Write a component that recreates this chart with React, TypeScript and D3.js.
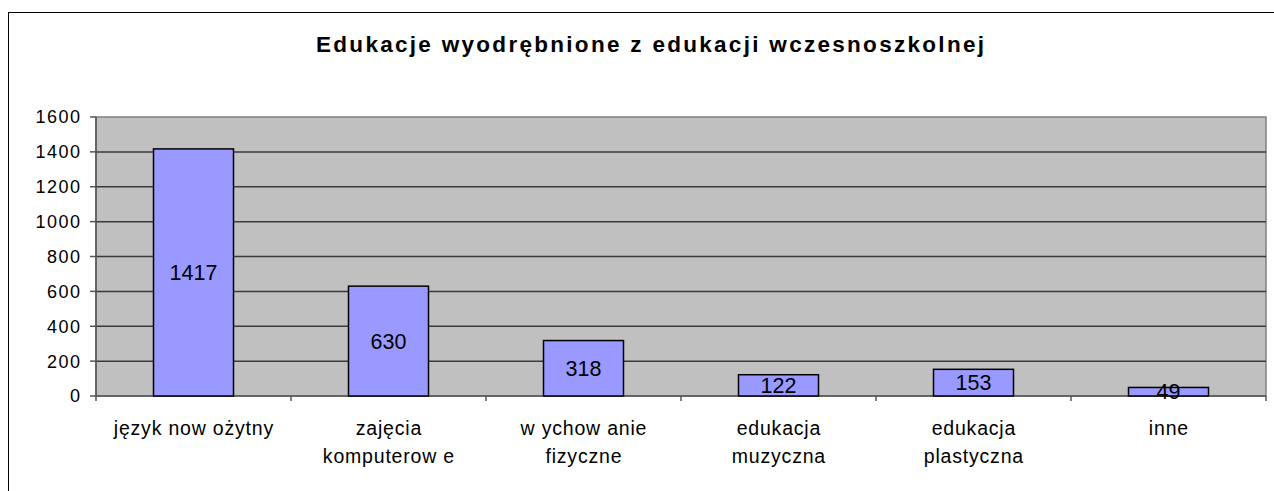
import React from "react";
import * as d3 from "d3";

const title = "Edukacje wyodrębnione z edukacji wczesnoszkolnej";
const categories: string[][] = [
  ["język now ożytny"],
  ["zajęcia", "komputerow e"],
  ["w ychow anie", "fizyczne"],
  ["edukacja", "muzyczna"],
  ["edukacja", "plastyczna"],
  ["inne"],
];
const values = [1417, 630, 318, 122, 153, 49];
const yTicks = [0, 200, 400, 600, 800, 1000, 1200, 1400, 1600];

export default function App() {
  const W = 1274, H = 491;
  const left = 96, right = 1266, top = 117, bottom = 396;
  const idx = values.map((_, i) => i);
  const x = d3.scaleBand<number>().domain(idx).range([left, right]).paddingInner(0).paddingOuter(0);
  const y = d3.scaleLinear().domain([0, 1600]).range([bottom, top]);
  const bw = 80;
  const font = "'Liberation Sans', Arial, sans-serif";
  return (
    <svg width={W} height={H} style={{ position: "absolute", left: 0, top: 0 }} fontFamily={font}>
      <rect x={0} y={0} width={W} height={H} fill="#fff" />
      <rect x={8.5} y={12.5} width={W + 10} height={H + 10} fill="none" stroke="#000" strokeWidth={1} />
      <text x={650} y={52} textAnchor="middle" fontSize={22.5} fontWeight="bold" textLength={668} lengthAdjust="spacing">{title}</text>
      <rect x={left} y={top} width={right - left} height={bottom - top} fill="#c0c0c0" stroke="#808080" strokeWidth={1.5} />
      {yTicks.filter(t => t > 0 && t < 1600).map(t => (
        <line key={t} x1={left} x2={right} y1={y(t)} y2={y(t)} stroke="#3a3a3a" strokeWidth={1.5} />
      ))}
      <line x1={left} x2={left} y1={top} y2={bottom + 5} stroke="#555" strokeWidth={1.5} />
      <line x1={left} x2={right} y1={bottom} y2={bottom} stroke="#555" strokeWidth={1.5} />
      {yTicks.map(t => (
        <g key={t}>
          <line x1={left - 6} x2={left} y1={y(t)} y2={y(t)} stroke="#555" strokeWidth={1.5} />
          <text x={81.5} y={y(t)} dy="0.36em" textAnchor="end" fontSize={18} letterSpacing={1.5}>{t}</text>
        </g>
      ))}
      {idx.map(i => (
        <line key={"t" + i} x1={x(i)! + x.bandwidth()} x2={x(i)! + x.bandwidth()} y1={bottom} y2={bottom + 5} stroke="#555" strokeWidth={1.5} />
      ))}
      {values.map((v, i) => {
        const cx = x(i)! + x.bandwidth() / 2;
        return (
          <g key={i}>
            <rect x={cx - bw / 2} y={y(v)} width={bw} height={bottom - y(v)} fill="#9999ff" stroke="#000" strokeWidth={1.5} />
            <text x={cx} y={(y(v) + bottom) / 2} dy="0.36em" textAnchor="middle" fontSize={21.5}>{v}</text>
            {categories[i].map((line, j) => (
              <text key={j} x={cx + 0.4} y={435 + j * 28} textAnchor="middle" fontSize={19.5} letterSpacing={0.8}>{line}</text>
            ))}
          </g>
        );
      })}
    </svg>
  );
}
